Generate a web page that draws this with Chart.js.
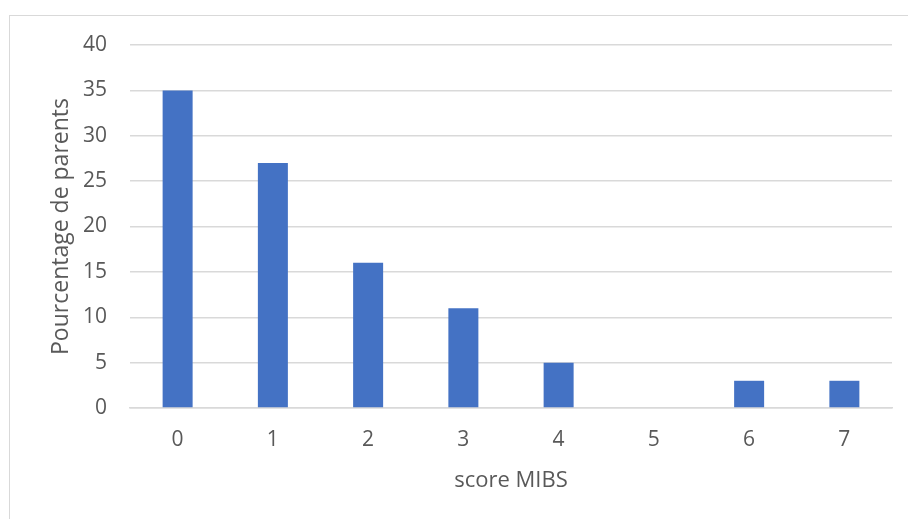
<!DOCTYPE html>
<html>
<head>
<meta charset="utf-8">
<script src="https://cdn.jsdelivr.net/npm/chart.js@4"></script>
<style>
  html, body { margin: 0; padding: 0; background: #fff; }
  #wrap { position: relative; width: 908px; height: 519px; overflow: hidden; }
  #frame { position: absolute; left: 9px; top: 15px; width: 920px; height: 540px; border: 1px solid #d9d9d9; box-sizing: border-box; }
  canvas { position: absolute; left: 0; top: 0; }
</style>
</head>
<body>
<div id="wrap">
  <div id="frame"></div>
  <canvas id="c" width="908" height="519"></canvas>
</div>
<script>
const categories = ['0', '1', '2', '3', '4', '5', '6', '7'];
const values = [35, 27, 16, 11, 5, 0, 3, 3];
const xTitle = 'score MIBS';
const yTitle = 'Pourcentage de parents';

const FONT = "'Open Sans', 'Liberation Sans', sans-serif";
const TXT = '#595959';
const PAD_LEFT = 44, PAD_BOTTOM = 21, PLOT_LEFT = 130, PLOT_BOTTOM = 408;

new Chart(document.getElementById('c'), {
  type: 'bar',
  data: {
    labels: categories,
    datasets: [{
      data: values,
      backgroundColor: '#4472c4',
      borderWidth: 0,
      categoryPercentage: 1,
      barPercentage: 0.315
    }]
  },
  options: {
    responsive: false,
    animation: false,
    devicePixelRatio: 1,
    layout: { padding: { left: PAD_LEFT, right: 16, top: 45, bottom: PAD_BOTTOM } },
    plugins: { legend: { display: false }, tooltip: { enabled: false } },
    scales: {
      x: {
        grid: { display: false, drawTicks: false },
        border: { display: true, color: '#d9d9d9', width: 1.5 },
        ticks: { color: TXT, font: { family: FONT, size: 21 }, padding: 19 },
        title: { display: true, text: xTitle, color: TXT, font: { family: FONT, size: 22 }, padding: { top: 4, bottom: 4 } },
        afterFit: s => { s.height = 519 - PAD_BOTTOM - PLOT_BOTTOM; }
      },
      y: {
        min: 0, max: 40,
        ticks: { stepSize: 5, color: TXT, font: { family: FONT, size: 21 }, padding: 23 },
        grid: { color: '#d9d9d9', lineWidth: 1.5, drawTicks: false },
        border: { display: false },
        title: { display: true, text: yTitle, color: TXT, font: { family: FONT, size: 23 }, padding: { top: 4, bottom: 4 } },
        afterFit: s => { s.width = PLOT_LEFT - PAD_LEFT; }
      }
    }
  }
});
</script>
</body>
</html>
